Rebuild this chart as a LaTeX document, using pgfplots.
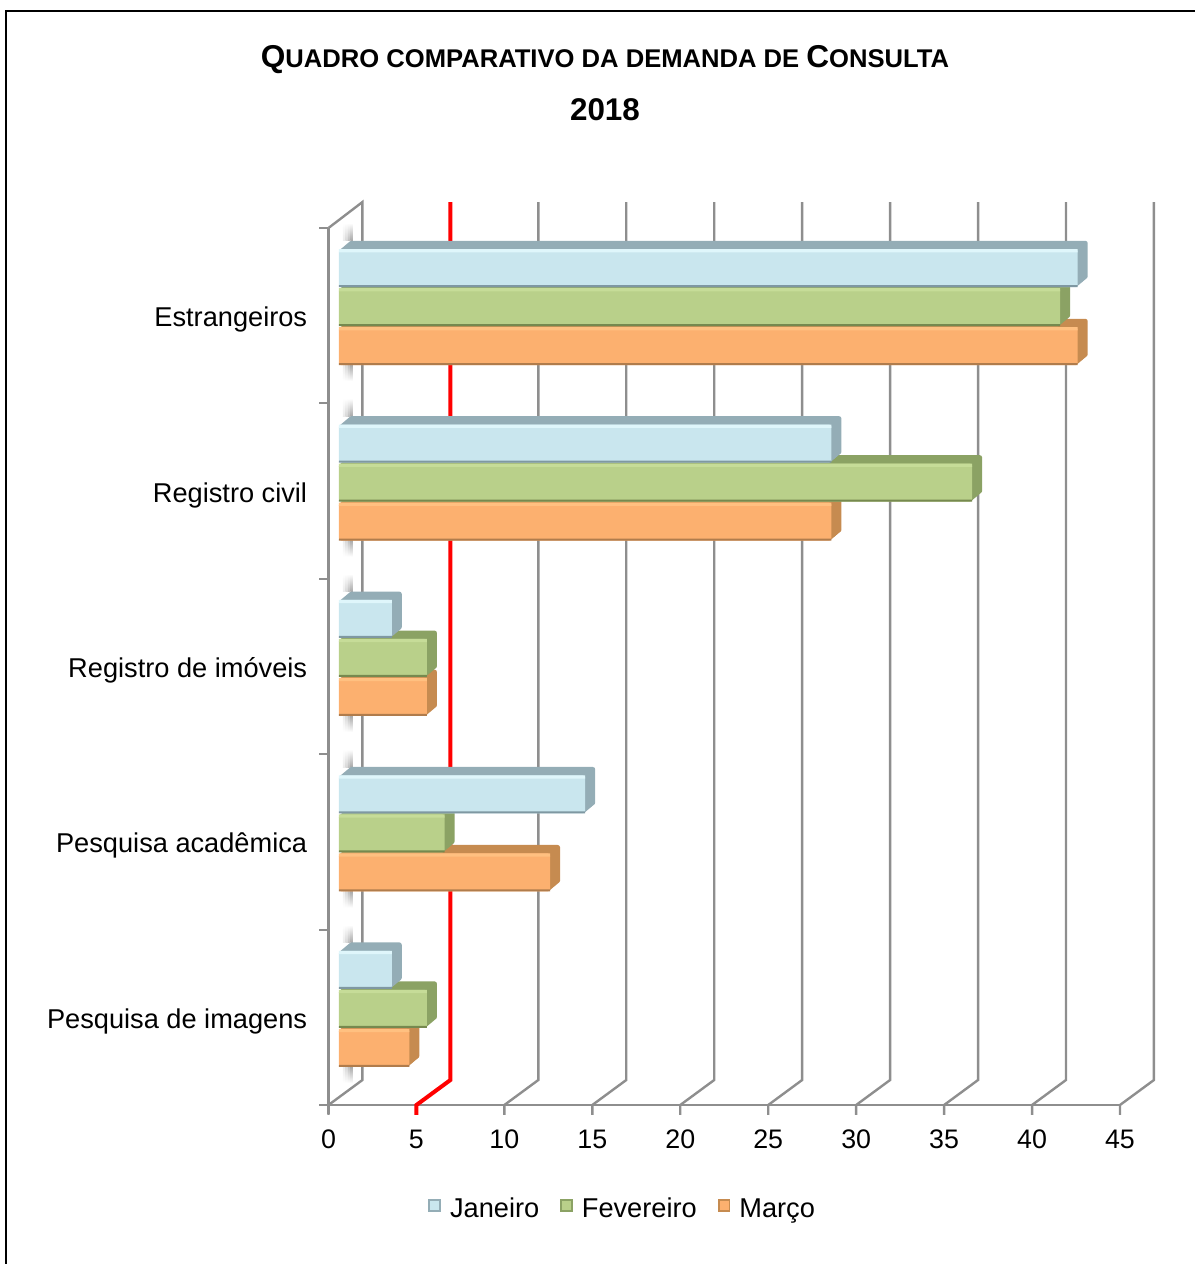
\documentclass[border=0pt]{standalone}
\usepackage{fontspec}
\setmainfont{Liberation Sans}
\usepackage{pgfplots}
\usepackage{pgfplotstable}
\pgfplotsset{compat=1.18}

\definecolor{janF}{HTML}{C9E6EE}\definecolor{janD}{HTML}{94ADB6}\definecolor{janL}{HTML}{DFF6FB}\definecolor{janE}{HTML}{7F98A2}
\definecolor{fevF}{HTML}{B9D08A}\definecolor{fevD}{HTML}{8BA264}\definecolor{fevL}{HTML}{C6DC98}\definecolor{fevE}{HTML}{76894F}
\definecolor{marF}{HTML}{FCB06F}\definecolor{marD}{HTML}{C68B50}\definecolor{marL}{HTML}{FFC080}\definecolor{marE}{HTML}{B07C4C}
\definecolor{gridg}{HTML}{8E8E8E}

\pgfplotstableread{
y   Jan Fev Mar
4.5 42  41  42
3.5 28  36  28
2.5 3   5   5
1.5 14  6   12
0.5 3   5   4
}\demanda

% #1 column, #2 group shift (pt), #3 front, #4 depth, #5 light, #6 edge
\newcommand{\serie}[6]{%
  \pgfplotsinvokeforeach{10,9,8,7,6,5,4,3,2,1}{%
    \addplot[xbar,forget plot,bar width=19pt,bar shift=#2,draw=none,fill=#4,rounded corners=1.2pt,
      xshift=5.25pt+##1*0.5pt,yshift=4.25pt+##1*0.42pt]
      table[x=#1,y=y]{\demanda};
  }
  \addplot[xbar,bar width=19pt,bar shift=#2,draw=none,fill=#3,rounded corners=1.2pt,
      xshift=5.25pt,yshift=4.25pt,
      legend image code/.code={\draw[sharp corners,draw=#4,fill=#3,line width=.9pt] (0pt,-5.1pt) rectangle (5.4pt,0.3pt);}]
      table[x=#1,y=y]{\demanda};
  \addplot[xbar,forget plot,bar width=1.6pt,bar shift=#2+8.7pt,draw=none,fill=#5,
      xshift=5.25pt,yshift=4.25pt]
      table[x=#1,y=y]{\demanda};
  \addplot[xbar,forget plot,bar width=1pt,bar shift=#2-9pt,draw=none,fill=#6,
      xshift=5.25pt,yshift=4.25pt]
      table[x=#1,y=y]{\demanda};
}

\begin{document}
\begin{tikzpicture}
\path[use as bounding box] (-164.25pt,-79.5pt) rectangle ++(597.5pt,632pt);
\begin{scope}[shift={(-164.25pt,552.5pt)},x=.5pt,y=-.5pt]
  \draw[black,line width=1pt] (6,1264) -- (6,11) -- (1195,11);
  \foreach \k in {0,...,4}{
    \pgfmathsetmacro\a{241+175.5*\k}
    \pgfmathsetmacro\b{364+175.5*\k}
    \foreach \xa/\xb/\c in {343/345.5/8,345.5/348/16,348/350.5/26,350.5/353/35}{
      \shade[top color=white,bottom color=black!\c] ({\xa},{\a-18}) rectangle ({\xb},{\a});
      \shade[top color=black!\c,bottom color=white] ({\xa},{\b}) rectangle ({\xb},{\b+17});
    }
  }
\end{scope}
\begin{axis}[
  at={(0,0)},anchor=south west,
  scale only axis,width=395.75pt,height=438.5pt,
  xmin=0,xmax=45,ymin=0,ymax=5,clip=false,
  axis lines=left,axis line style={-,draw=gridg,line width=1.2pt},
  xtick={0,5,...,45},
  ytick={0,1,2,3,4,5},
  yticklabels={},
  extra y ticks={0.5,1.5,2.5,3.5,4.5},
  extra y tick labels={Pesquisa de imagens,Pesquisa acadêmica,Registro de imóveis,Registro civil,Estrangeiros},
  extra y tick style={major tick length=0pt},
  tick align=outside,major tick length=4.5pt,
  tick style={draw=gridg,line width=1.1pt},
  /pgf/number format/assume math mode=true,
  x tick label style={yshift=-4.5pt,font=\fontsize{13.4pt}{16pt}\selectfont,text=black},
  y tick label style={xshift=-10.5pt,yshift=-2pt,inner xsep=0pt,font=\fontsize{13.6pt}{16pt}\selectfont,text=black},
  legend columns=-1,reverse legend,
  legend style={draw=none,fill=none,at={(0.373,-0.119)},anchor=center,
    font=\fontsize{13.6pt}{16pt}\selectfont,
    /tikz/every even column/.style={column sep=8.5pt},
    /tikz/every odd column/.style={column sep=2.5pt},
    inner sep=0pt},
]
\addplot[gridg,line width=1.2pt,forget plot] coordinates {(0,5)(1.93,5.148)(1.93,0.1425)(0,0)(0,-0.057)};
\addplot[red,line width=2pt,forget plot] coordinates {(6.93,5.148)(6.93,0.1425)(5,0)(5,-0.057)};
\addplot[gridg,line width=1.2pt,forget plot] coordinates {(11.93,5.148)(11.93,0.1425)(10,0)(10,-0.057)};
\addplot[gridg,line width=1.2pt,forget plot] coordinates {(16.93,5.148)(16.93,0.1425)(15,0)(15,-0.057)};
\addplot[gridg,line width=1.2pt,forget plot] coordinates {(21.93,5.148)(21.93,0.1425)(20,0)(20,-0.057)};
\addplot[gridg,line width=1.2pt,forget plot] coordinates {(26.93,5.148)(26.93,0.1425)(25,0)(25,-0.057)};
\addplot[gridg,line width=1.2pt,forget plot] coordinates {(31.93,5.148)(31.93,0.1425)(30,0)(30,-0.057)};
\addplot[gridg,line width=1.2pt,forget plot] coordinates {(36.93,5.148)(36.93,0.1425)(35,0)(35,-0.057)};
\addplot[gridg,line width=1.2pt,forget plot] coordinates {(41.93,5.148)(41.93,0.1425)(40,0)(40,-0.057)};
\addplot[gridg,line width=1.2pt,forget plot] coordinates {(46.93,5.148)(46.93,0.1425)(45,0)(45,-0.057)};
\serie{Mar}{-19.5pt}{marF}{marD}{marL}{marE}
\serie{Fev}{0pt}{fevF}{fevD}{fevL}{fevE}
\serie{Jan}{19.5pt}{janF}{janD}{janL}{janE}
\legend{Março,Fevereiro,Janeiro}
\end{axis}
\begin{scope}[shift={(-164.25pt,552.5pt)},x=.5pt,y=-.5pt]
  \node[anchor=base,inner sep=0pt,font=\bfseries] at (605,68)
    {\fontsize{15.8pt}{18pt}\selectfont Q\fontsize{12.8pt}{18pt}\selectfont UADRO COMPARATIVO DA DEMANDA DE \fontsize{15.8pt}{18pt}\selectfont C\fontsize{12.8pt}{18pt}\selectfont ONSULTA};
  \node[anchor=base,inner sep=0pt,font=\bfseries\fontsize{15.7pt}{18pt}\selectfont] at (605,121) {2018};
\end{scope}
\end{tikzpicture}
\end{document}
